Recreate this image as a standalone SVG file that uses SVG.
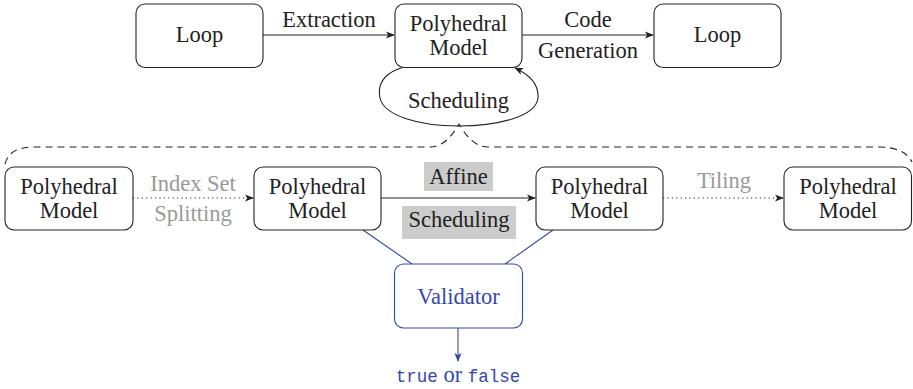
<svg xmlns="http://www.w3.org/2000/svg" width="913" height="389" viewBox="0 0 913 389">
<defs>
<style>
.box{fill:#fff;stroke:#222;stroke-width:1.1}
.vbox{fill:#fff;stroke:#3446b0;stroke-width:1.1}
.t{font-size:22.5px;fill:#222;text-anchor:middle}
.g{fill:#999}
.b{fill:#3446b0}
.m{font-size:17.5px}
.e{fill:none;stroke:#222;stroke-width:1.1}
.d{fill:none;stroke:#222;stroke-width:1.1;stroke-dasharray:1.2 3.2}
.ds{fill:none;stroke:#222;stroke-width:1.1;stroke-dasharray:7 5}
.bl{fill:none;stroke:#3446b0;stroke-width:1.1}
.lab{fill:#cbcccb}
</style>
<marker id="ah" viewBox="0 0 10 10" refX="9" refY="5" markerWidth="9" markerHeight="9" markerUnits="userSpaceOnUse" orient="auto">
<path d="M0,1 L10,5 L0,9 L2.5,5 Z" fill="#222"/>
</marker>
<marker id="ahb" viewBox="0 0 10 10" refX="9" refY="5" markerWidth="9" markerHeight="9" markerUnits="userSpaceOnUse" orient="auto">
<path d="M0,1 L10,5 L0,9 L2.5,5 Z" fill="#3446b0"/>
</marker>
</defs>
<g id="connectors">
<path class="e" d="M263,35 H394" marker-end="url(#ah)"/>
<path class="e" d="M522,35 H653" marker-end="url(#ah)"/>
<path class="e" d="M404,67 C380,74 378,88 380,98 C384,116 420,126 458,126 C500,126 536,116 538,98 C539,84 528,74 515,68" marker-end="url(#ah)"/>
<path class="ds" d="M5,164 C8,152 18,147 35,147 H430 C443,147 452,136 459,124 C466,136 475,147 488,147 H878 C896,147 907,152 912,162"/>
<path class="d" d="M133,198 H253" marker-end="url(#ah)"/>
<path class="e" d="M381,198 H535" marker-end="url(#ah)"/>
<path class="d" d="M663,198 H783" marker-end="url(#ah)"/>
<path class="bl" d="M363,230 L412,264"/>
<path class="bl" d="M553,230 L505,264"/>
<path class="bl" d="M458,328 V361" marker-end="url(#ahb)"/>
</g>
<g id="loop1"><rect class="box" x="136" y="4" width="127" height="63.5" rx="9"/><text class="t" font-family="Liberation Serif" x="199.5" y="42">Loop</text></g>
<g id="poly-top"><rect class="box" x="395" y="4" width="127" height="63.5" rx="9"/><text class="t" font-family="Liberation Serif" x="458.5" y="31">Polyhedral</text><text class="t" font-family="Liberation Serif" x="458.5" y="55">Model</text></g>
<g id="loop2"><rect class="box" x="654" y="4" width="127" height="63.5" rx="9"/><text class="t" font-family="Liberation Serif" x="717.5" y="42">Loop</text></g>
<g id="labels-top">
<text class="t" font-family="Liberation Serif" x="329" y="27">Extraction</text>
<text class="t" font-family="Liberation Serif" x="588" y="27">Code</text>
<text class="t" font-family="Liberation Serif" x="588" y="58">Generation</text>
<text class="t" font-family="Liberation Serif" x="458.5" y="108">Scheduling</text>
</g>
<g id="poly1"><rect class="box" x="5" y="167" width="128" height="63" rx="9"/><text class="t" font-family="Liberation Serif" x="69" y="194">Polyhedral</text><text class="t" font-family="Liberation Serif" x="69" y="218">Model</text></g>
<g id="poly2"><rect class="box" x="254" y="167" width="127" height="63" rx="9"/><text class="t" font-family="Liberation Serif" x="317.5" y="194">Polyhedral</text><text class="t" font-family="Liberation Serif" x="317.5" y="218">Model</text></g>
<g id="poly3"><rect class="box" x="536" y="167" width="127" height="63" rx="9"/><text class="t" font-family="Liberation Serif" x="599.5" y="194">Polyhedral</text><text class="t" font-family="Liberation Serif" x="599.5" y="218">Model</text></g>
<g id="poly4"><rect class="box" x="784" y="167" width="127.5" height="63" rx="9"/><text class="t" font-family="Liberation Serif" x="848" y="194">Polyhedral</text><text class="t" font-family="Liberation Serif" x="848" y="218">Model</text></g>
<g id="labels-bottom">
<text class="t g" font-family="Liberation Serif" x="193" y="191">Index Set</text>
<text class="t g" font-family="Liberation Serif" x="193" y="221">Splitting</text>
<text class="t g" font-family="Liberation Serif" x="724" y="188">Tiling</text>
<rect class="lab" x="424" y="162" width="69" height="29"/>
<text class="t" font-family="Liberation Serif" x="458.5" y="184">Affine</text>
<rect class="lab" x="402" y="206" width="114" height="33"/>
<text class="t" font-family="Liberation Serif" x="459" y="227">Scheduling</text>
</g>
<g id="validator"><rect class="vbox" x="394.5" y="264" width="128" height="64" rx="9"/><text class="t b" font-family="Liberation Serif" x="458.5" y="304">Validator</text></g>
<g id="result"><text class="t b" font-family="Liberation Serif" x="458" y="382"><tspan class="m" font-family="Liberation Mono">true</tspan> or <tspan class="m" font-family="Liberation Mono">false</tspan></text></g>
</svg>
